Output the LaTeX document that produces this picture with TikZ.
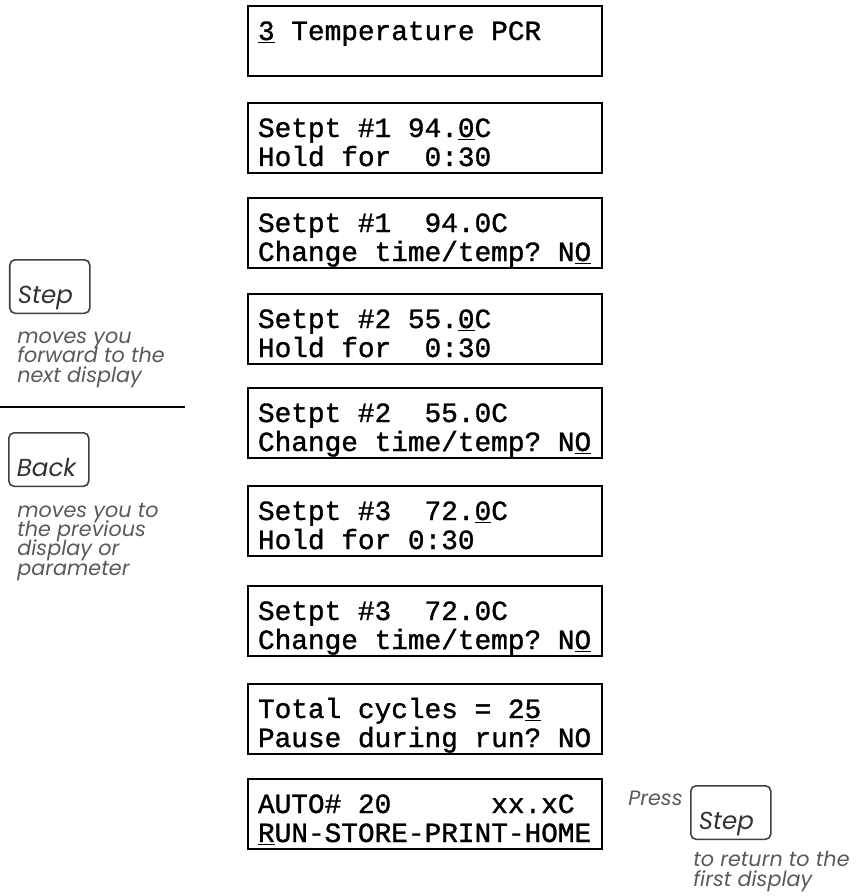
\documentclass[tikz,border=0pt]{standalone}
\usepackage{fontspec}
\newfontfamily\lcdfont{Liberation Mono}[FakeBold=1.2]
\newfontfamily\keyfont{Poppins}
\newcommand\lcdsetup{\lcdfont\fontsize{15.8}{16.5}\selectfont}
\newcommand\gap{\hspace*{0.6em}}% one character cell
\newcommand\notesetup{\keyfont\itshape\fontsize{11.8}{11}\selectfont
  \lineskiplimit=-20pt\relax}

\tikzset{
  display/.style={draw, line width=1.1pt, minimum width=7.08cm, minimum height=1.4cm,
    text width=6.68cm, inner xsep=0.2cm, text height=0.55cm, text depth=0.59cm,
    align=left, font=\lcdsetup},
  keybox/.style={draw=black!75, line width=0.9pt, rounded corners=3pt,
    minimum width=1.6cm, text width=1.28cm, inner xsep=0.16cm, inner ysep=0pt,
    text height=0.87cm, text depth=0.2cm, align=left, text=black!80,
    font=\keyfont\itshape\fontsize{14}{14}\selectfont},
  note/.style={inner sep=0pt, align=left, text=black!65, font=\notesetup}
}

\begin{document}
\begin{tikzpicture}
  \useasboundingbox (0,0) rectangle (17.3,-17.92);

  % displays
  \node[display] (title) at (8.5,-0.82) {\underline{3}\gap Temperature\gap PCR\\ \mbox{}};
  \node[display] (hold1) at (8.5,-2.76) {Setpt\gap\#1\gap94.\underline{0}C\\Hold\gap for\gap\gap0:30};
  \node[display] (chg1) at (8.5,-4.66) {Setpt\gap\#1\gap\gap94.0C\\Change\gap time/temp?\gap N\underline{O}};
  \node[display] (hold2) at (8.5,-6.58) {Setpt\gap\#2\gap55.\underline{0}C\\Hold\gap for\gap\gap0:30};
  \node[display] (chg2) at (8.5,-8.46) {Setpt\gap\#2\gap\gap55.0C\\Change\gap time/temp?\gap N\underline{O}};
  \node[display] (hold3) at (8.5,-10.42) {Setpt\gap\#3\gap\gap72.\underline{0}C\\Hold\gap for\gap0:30};
  \node[display] (chg3) at (8.5,-12.42) {Setpt\gap\#3\gap\gap72.0C\\Change\gap time/temp?\gap N\underline{O}};
  \node[display] (cycles) at (8.5,-14.38) {Total\gap cycles\gap=\gap2\underline{5}\\Pause\gap during\gap run?\gap NO};
  \node[display] (auto) at (8.5,-16.28) {AUTO\#\gap20\gap\gap\gap\gap\gap\gap xx.xC\\\underline{R}UN-STORE-PRINT-HOME};

  % keys on the left (notes placed by their last line)
  \node[keybox, anchor=north west] (stepkey) at (0.18,-5.18) {Step};
  \node[note, anchor=base west] (stepnote) at (0.34,-7.64) {moves you\\forward to the\\next display};
  \draw[line width=1pt] (0,-8.14) -- (3.7,-8.14);
  \node[keybox, anchor=north west] (backkey) at (0.16,-8.64) {Back};
  \node[note, anchor=base west] (backnote) at (0.34,-11.5) {moves you to\\the previous\\display or\\parameter};

  % return key
  \node[note, anchor=base west] (press) at (12.56,-16.1) {Press};
  \node[keybox, anchor=north west] (returnkey) at (13.8,-15.7) {Step};
  \node[note, anchor=base west] (returnnote) at (13.86,-17.72) {to return to the\\first display};
\end{tikzpicture}
\end{document}
